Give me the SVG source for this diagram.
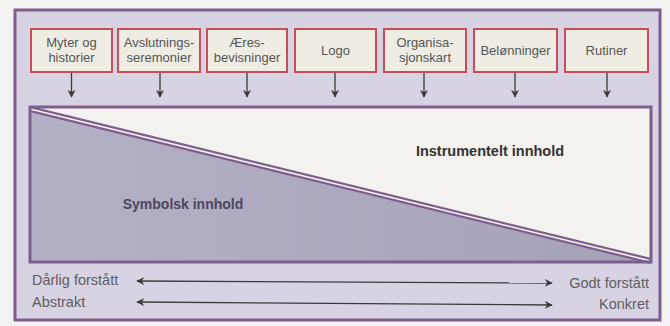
<svg xmlns="http://www.w3.org/2000/svg" width="670" height="326" viewBox="0 0 670 326">
  <style>
    .frame { fill: #d7d3e2; stroke: #7d5f8e; stroke-width: 3; }
    .box rect { fill: #efece3; stroke: #c24f5a; stroke-width: 2; }
    .box text { font-family: "Liberation Sans", Arial, sans-serif; font-size: 13px; fill: #555; text-anchor: middle; }
    .conn line { stroke: #3a3a3a; stroke-width: 1.3; }
    .label { font-family: "Liberation Sans", Arial, sans-serif; font-size: 14.5px; fill: #5e5e62; }
    .bold { font-family: "Liberation Sans", Arial, sans-serif; font-size: 14.5px; font-weight: bold; text-anchor: middle; }
  </style>
  <defs>
    <marker id="tip" viewBox="0 0 10 10" refX="9" refY="5" markerWidth="8" markerHeight="8" markerUnits="userSpaceOnUse" orient="auto-start-reverse">
      <path d="M0,0 L10,5 L0,10 L3,5 Z" fill="#3a3a3a"/>
    </marker>
    <linearGradient id="sym" x1="0" y1="0" x2="1" y2="0">
      <stop offset="0" stop-color="#b4b0c5"/>
      <stop offset="1" stop-color="#a5a1b9"/>
    </linearGradient>
  </defs>

  <rect x="0" y="0" width="670" height="326" fill="#f3f3f1"/>
  <rect class="frame" x="15" y="10" width="645" height="310"/>

  <!-- content panel: instrumental (upper right) and symbolic (lower left) parts -->
  <g id="panel">
    <rect x="30" y="107" width="621" height="155" fill="#f3f2ee"/>
    <polygon points="30,110 651,262 30,262" fill="url(#sym)"/>
    <line x1="30" y1="109" x2="651" y2="261" stroke="#7d5f8e" stroke-width="6"/>
    <line x1="30" y1="109" x2="651" y2="261" stroke="#f3f2ee" stroke-width="1.6"/>
    <rect x="30" y="107" width="621" height="155" fill="none" stroke="#7d5f8e" stroke-width="3"/>
    <text class="bold" x="490" y="156" fill="#333">Instrumentelt innhold</text>
    <text class="bold" x="183" y="209" fill="#4a4760" style="font-size:14px">Symbolsk innhold</text>
  </g>

  <g id="n1" class="box"><rect x="31" y="29" width="81" height="43"/><text x="71.5" y="47">Myter og</text><text x="71.5" y="62">historier</text></g>
  <g id="n2" class="box"><rect x="118" y="29" width="82" height="43"/><text x="159" y="47">Avslutnings-</text><text x="159" y="62">seremonier</text></g>
  <g id="n3" class="box"><rect x="207" y="29" width="80" height="43"/><text x="247" y="47">Æres-</text><text x="247" y="62">bevisninger</text></g>
  <g id="n4" class="box"><rect x="295" y="29" width="81" height="43"/><text x="335.5" y="55">Logo</text></g>
  <g id="n5" class="box"><rect x="384" y="29" width="82" height="43"/><text x="425" y="47">Organisa-</text><text x="425" y="62">sjonskart</text></g>
  <g id="n6" class="box"><rect x="474" y="29" width="83" height="43"/><text x="515.5" y="55">Belønninger</text></g>
  <g id="n7" class="box"><rect x="565" y="29" width="83" height="43"/><text x="606.5" y="55">Rutiner</text></g>

  <g id="connectors" class="conn">
    <line x1="71.5" y1="73" x2="71.5" y2="97" marker-end="url(#tip)"/>
    <line x1="160" y1="73" x2="160" y2="97" marker-end="url(#tip)"/>
    <line x1="247" y1="73" x2="247" y2="97" marker-end="url(#tip)"/>
    <line x1="335" y1="73" x2="335" y2="97" marker-end="url(#tip)"/>
    <line x1="424" y1="73" x2="424" y2="97" marker-end="url(#tip)"/>
    <line x1="515" y1="73" x2="515" y2="97" marker-end="url(#tip)"/>
    <line x1="607" y1="73" x2="607" y2="97" marker-end="url(#tip)"/>
    <line x1="137" y1="281" x2="552" y2="283" marker-start="url(#tip)" marker-end="url(#tip)"/>
    <line x1="137" y1="302" x2="552" y2="305" marker-start="url(#tip)" marker-end="url(#tip)"/>
  </g>

  <g id="scale">
    <text class="label" x="32" y="285">Dårlig forstått</text>
    <text class="label" x="32" y="307">Abstrakt</text>
    <text class="label" x="649" y="288" text-anchor="end">Godt forstått</text>
    <text class="label" x="649" y="309" text-anchor="end">Konkret</text>
  </g>
</svg>
